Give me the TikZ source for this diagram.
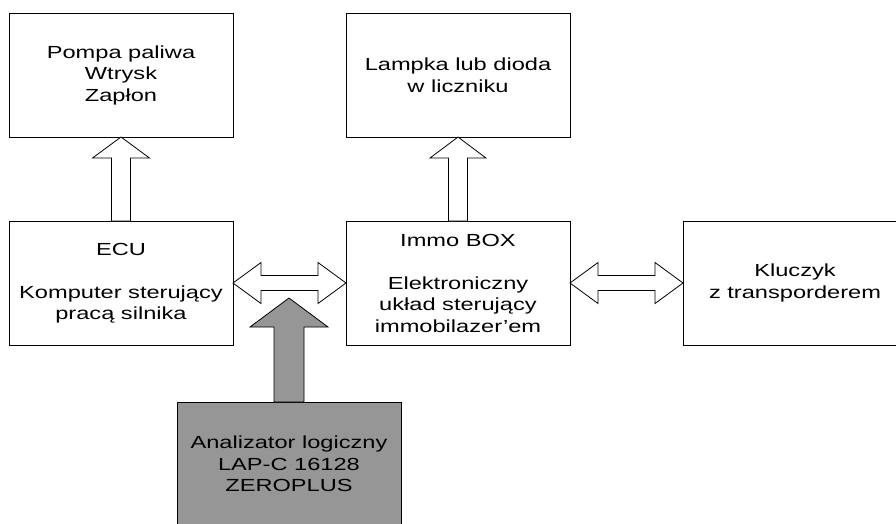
\documentclass[tikz,border=0pt]{standalone}
\usepackage{fontspec}
\setmainfont[FakeStretch=1.35]{Liberation Sans}
\usetikzlibrary{calc}
\definecolor{anagray}{RGB}{150,150,150}
\tikzset{
  box/.style={draw=black, line width=1pt, minimum width=224pt, minimum height=124pt,
    inner sep=0pt, outer sep=0pt, anchor=north west, align=center,
    font=\fontsize{17.5}{21.5}\selectfont},
  hollow/.style={draw=black, line width=0.8pt, fill=white, line join=miter},
  grayarrow/.style={draw=black, line width=0.8pt, fill=anagray, line join=miter}
}
\begin{document}
\begin{tikzpicture}[x=1pt,y=-1pt]
\useasboundingbox (0,0) rectangle (896,523);
\clip (0,0) rectangle (896,523);
\fill[white] (0,0) rectangle (896,523);
\node[box] (pompa) at (9,13) {Pompa paliwa\\Wtrysk\\Zapłon};
\node[box] (lampka) at (346,13) {Lampka lub dioda\\w liczniku};
\node[box] (ecu) at (9,221) {ECU\\[21.5pt]Komputer sterujący\\pracą silnika};
\node[box] (immo) at (346,221) {Immo BOX\\[21.5pt]Elektroniczny\\układ sterujący\\immobilazer’em};
\node[box] (klucz) at (683,221) {Kluczyk\\z transporderem};
\node[box, fill=anagray] (anal) at (177,402) {Analizator logiczny\\LAP-C 16128\\ZEROPLUS};
\coordinate (gtip) at (289,298);
% up arrows
\draw[hollow] let \p1=(pompa.south), \p2=(ecu.north) in
  (\x1,\y1) -- (\x1+28.5pt,\y1-21pt) -- (\x1+9.5pt,\y1-21pt) -- (\x1+9.5pt,\y2)
  -- (\x1-9.5pt,\y2) -- (\x1-9.5pt,\y1-21pt) -- (\x1-28.5pt,\y1-21pt) -- cycle;
\draw[hollow] let \p1=(lampka.south), \p2=(immo.north) in
  (\x1,\y1) -- (\x1+28pt,\y1-21pt) -- (\x1+9.5pt,\y1-21pt) -- (\x1+9.5pt,\y2)
  -- (\x1-9.5pt,\y2) -- (\x1-9.5pt,\y1-21pt) -- (\x1-28pt,\y1-21pt) -- cycle;
% double arrows
\draw[hollow] let \p1=(ecu.east), \p2=(immo.west) in
  (\x1,\y1) -- (\x1+28pt,\y1+20.5pt) -- (\x1+28pt,\y1+7.5pt) -- (\x2-28pt,\y1+7.5pt)
  -- (\x2-28pt,\y1+20.5pt) -- (\x2,\y1) -- (\x2-28pt,\y1-20.5pt) -- (\x2-28pt,\y1-7.5pt)
  -- (\x1+28pt,\y1-7.5pt) -- (\x1+28pt,\y1-20.5pt) -- cycle;
\draw[hollow] let \p1=(immo.east), \p2=(klucz.west) in
  (\x1,\y1) -- (\x1+28pt,\y1+20.5pt) -- (\x1+28pt,\y1+7.5pt) -- (\x2-28pt,\y1+7.5pt)
  -- (\x2-28pt,\y1+20.5pt) -- (\x2,\y1) -- (\x2-28pt,\y1-20.5pt) -- (\x2-28pt,\y1-7.5pt)
  -- (\x1+28pt,\y1-7.5pt) -- (\x1+28pt,\y1-20.5pt) -- cycle;
% gray arrow
\draw[grayarrow] let \p1=(gtip), \p2=(anal.north) in
  (\x1,\y1) -- (\x1+39pt,\y1-29pt) -- (\x1+15pt,\y1-29pt) -- (\x1+15pt,\y2)
  -- (\x1-15pt,\y2) -- (\x1-15pt,\y1-29pt) -- (\x1-39pt,\y1-29pt) -- cycle;
\end{tikzpicture}
\end{document}
